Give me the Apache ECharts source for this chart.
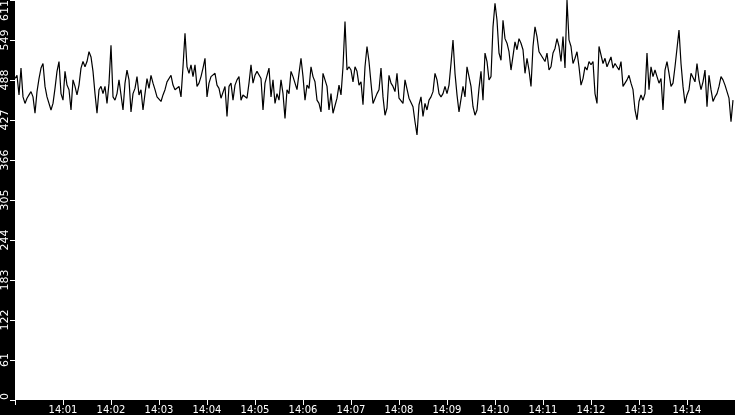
<!DOCTYPE html>
<html>
<head>
<meta charset="utf-8">
<script src="https://cdn.jsdelivr.net/npm/echarts@6/dist/echarts.min.js"></script>
<style>
html,body{margin:0;padding:0;background:#000;}
#chart{width:735px;height:415px;}
</style>
</head>
<body>
<div id="chart"></div>
<script>
// Sample spacing (seconds) starting at 14:00:00
var stepSeconds = 2.5;

// Values, per ~112.5 s segment
var seg1 = [491,496,466,507,463,453,461,466,471,463,438,471,491,507,514,479,463,461,443,453,476,502,517,468,458,502,481,474,443,489,479,466,481,507,517,509,517,532,524,502,468,438,474,479,468];
var seg2 = [479,453,484,542,463,458,468,489,491,443,484,504,489,440,468,476,494,466,474,443,468,491,476,496,484,474,463,461,456,466,474,486,489,496,481,474,476,479,463,509,560,509,499,512,494];
var seg3 = [512,479,484,494,507,522,463,484,494,496,499,481,476,461,463,479,433,479,484,458,481,489,494,458,466,466,461,484,512,484,496,502,499,491,443,484,484,507,463,489,453,468,458,489,468];
var seg4 = [430,474,468,502,494,491,474,499,522,494,458,481,476,509,494,486,458,453,440,499,502,479,443,468,438,440,461,481,466,509,578,504,509,504,486,509,502,481,486,451,509,540,517,484,453];
var seg5 = [453,468,474,507,463,435,446,496,484,479,471,499,461,463,453,489,486,461,458,448,425,405,451,463,433,453,443,458,463,471,499,489,468,463,468,479,468,481,514,550,499,466,440,443,479];
var seg6 = [463,509,494,479,448,435,443,476,502,458,530,517,489,494,570,606,580,530,519,580,552,545,532,504,502,547,535,552,545,535,499,522,504,479,540,570,555,532,527,530,517,530,504,509,530];
var seg7 = [537,552,540,517,555,507,611,550,540,514,522,532,509,481,491,509,504,517,512,517,468,453,540,540,514,522,509,509,524,507,514,512,504,517,479,484,489,496,484,474,443,428,456,466,458];
var seg8 = [468,530,474,509,494,504,494,484,491,443,504,517,499,479,484,509,509,565,514,479,453,466,474,499,502,486,514,489,474,486,504,448,496,474,456,463,468,479,494,489,481,484,461,425,458];

// Axis tick labels (one per minute, 14:00 .. 14:15 at the edges are unlabeled)
var xTickLabels = ['', '14:01','14:02','14:03','14:04','14:05','14:06','14:07','14:08','14:09','14:10','14:11','14:12','14:13','14:14', ''];
var yTickLabels = ['0','61','122','183','244','305','366','427','488','549','611'];
var yMax = 611;

var values = [].concat(seg1, seg2, seg3, seg4, seg5, seg6, seg7, seg8);
var data = values.map(function (v, i) { return [i * stepSeconds, v]; });

var chart = echarts.init(document.getElementById('chart'), null, {renderer: 'canvas'});
chart.setOption({
  animation: false,
  backgroundColor: '#000',
  grid: {left: 15, right: 0, top: 0, bottom: 15, containLabel: false, outerBoundsMode: 'none', show: true, backgroundColor: '#fff', borderWidth: 0},
  xAxis: [{
    type: 'value', min: 0, max: 900, interval: 60,
    axisLine: {show: false},
    splitLine: {show: false},
    axisTick: {show: true, inside: false, length: 5, lineStyle: {color: '#ffffff', width: 1}},
    axisLabel: {
      color: '#fff', fontFamily: 'DejaVu Sans', fontSize: 10, lineHeight: 10, margin: 5,
      showMinLabel: true, showMaxLabel: true, hideOverlap: false,
      formatter: function (v) { return xTickLabels[Math.round(v / 60)] || ''; }
    }
  }, {
    type: 'value', min: 0, max: 900, interval: 60, position: 'bottom', offset: 0,
    axisLine: {show: false},
    splitLine: {show: false},
    axisTick: {show: true, inside: false, length: 5, lineStyle: {color: '#ffffff', width: 1}},
    axisLabel: {show: false}
  }],
  yAxis: {
    type: 'value', min: 0, max: yMax, interval: yMax / 10,
    axisLine: {show: false},
    splitLine: {show: false},
    axisTick: {show: true, length: 5, lineStyle: {color: '#fff', width: 1}},
    axisLabel: {
      color: '#fff', fontFamily: 'DejaVu Sans', fontSize: 11, margin: 4, rotate: 90,
      showMinLabel: true, showMaxLabel: true,
      alignMinLabel: 'left', alignMaxLabel: 'right',
      formatter: function (v) { return yTickLabels[Math.round(v / (yMax / 10))]; }
    }
  },
  series: [{
    type: 'line', data: data, showSymbol: false, symbol: 'none',
    lineStyle: {color: '#000', width: 1.2}, clip: true
  }]
});
</script>
</body>
</html>
